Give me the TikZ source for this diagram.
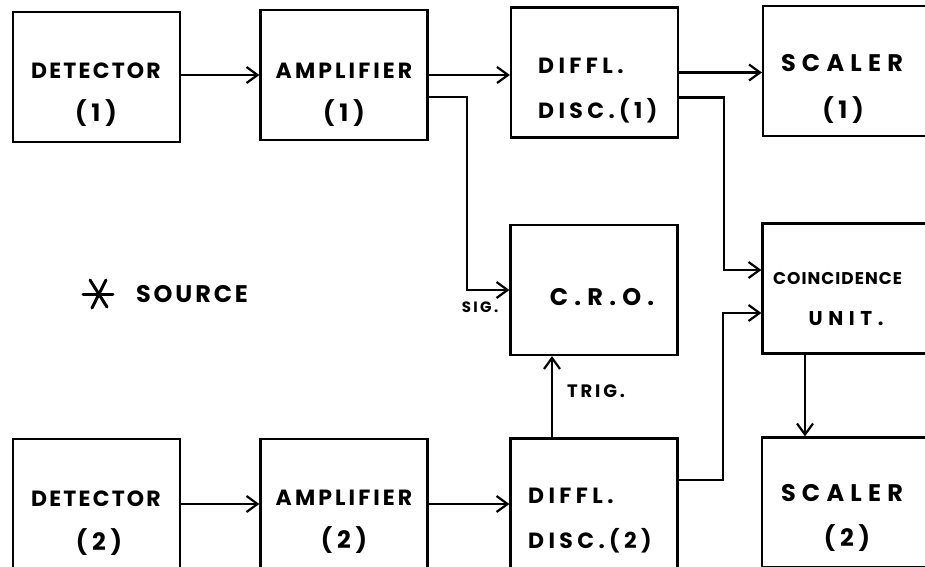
\documentclass[tikz,border=0pt]{standalone}
\usepackage{fontspec}
\newfontfamily\hand{Poppins}
\usetikzlibrary{arrows.meta}
\begin{document}
\begin{tikzpicture}[x=1pt,y=-1pt,
  blk/.style={draw, line width=2.2pt, minimum width=167pt, minimum height=130pt, inner sep=0pt},
  lbl/.style={font={\hand\bfseries\fontsize{22}{22}\selectfont\addfontfeatures{LetterSpace=#1}}, inner sep=0pt, anchor=base},
  lbl/.default=10,
  big/.style={font={\hand\bfseries\fontsize{24}{24}\selectfont\addfontfeatures{LetterSpace=#1}}, inner sep=0pt, anchor=base},
  big/.default=26,
  lblw/.style={lbl=#1, anchor=base west},
  lblw/.default=20,
  small/.style={font={\hand\bfseries\fontsize{15}{15}\selectfont\addfontfeatures{LetterSpace=16}}, inner sep=0pt, anchor=base},
  mid/.style={font={\hand\bfseries\fontsize{18}{18}\selectfont\addfontfeatures{LetterSpace=16}}, inner sep=0pt, anchor=base},
  arr/.style={line width=2.2pt, -{Straight Barb[length=11pt,width=16pt]}}]
\useasboundingbox (0,0) rectangle (925,566);
\clip (0,0) rectangle (925,566);
\fill[white] (0,0) rectangle (925,566);

% boxes
\node[blk] (det1) at (96.5,77) {};
\node[blk] (amp1) at (344,75) {};
\node[blk] (dif1) at (594.5,72.5) {};
\node[blk] (sca1) at (846.5,71) {};
\node[blk] (cro)  at (594,290) {};
\node[blk] (coin) at (846,288.5) {};
\node[blk] (det2) at (96.5,504) {};
\node[blk] (amp2) at (344,504) {};
\node[blk] (dif2) at (594,503.5) {};
\node[blk] (sca2) at (845.5,502.5) {};

% labels
\node[lbl] (det1a) at (96,78) {DETECTOR};
\node[big=20] (det1b) at (96,121) {(1)};
\node[lbl=14] (amp1a) at (344,78) {AMPLIFIER};
\node[big=20] (amp1b) at (344,121) {(1)};
\node[lblw] (dif1a) at (538,73) {DIFFL.};
\node[lblw] (dif1b) at (538,118) {DISC.(1)};
\node[big] (sca1a) at (842,71) {SCALER};
\node[big=20] (sca1b) at (843,118) {(1)};
\node[big] (croa) at (602,305) {C.R.O.};
\node[font={\hand\bfseries\fontsize{17}{17}\selectfont\addfontfeatures{LetterSpace=6}}, inner sep=0pt, anchor=base west] (coina) at (773,284) {COINCIDENCE};
\node[font={\hand\bfseries\fontsize{20}{20}\selectfont\addfontfeatures{LetterSpace=28}}, inner sep=0pt, anchor=base] (coinb) at (846,325) {UNIT.};
\node[lbl] (det2a) at (96,506) {DETECTOR};
\node[big=20] (det2b) at (99,550) {(2)};
\node[lbl=14] (amp2a) at (344,505) {AMPLIFIER};
\node[big=20] (amp2b) at (344,548) {(2)};
\node[lblw] (dif2a) at (528,503) {DIFFL.};
\node[lblw] (dif2b) at (528,548) {DISC.(2)};
\node[big] (sca2a) at (842,501) {SCALER};
\node[big=20] (sca2b) at (847,546) {(2)};
\node[small] (sig) at (480,312) {SIG.};
\node[mid] (trig) at (596,397) {TRIG.};
\node[font={\hand\bfseries\fontsize{24}{24}\selectfont\addfontfeatures{LetterSpace=12}}, inner sep=0pt, anchor=base] (srca) at (192,302) {SOURCE};

% source star
\draw[line width=3pt, line cap=round] (90,280) -- (107,307);
\draw[line width=3pt, line cap=round] (106,280) -- (92,308);
\draw[line width=3pt, line cap=round] (83,294) -- (113,294);

% connectors
\draw[arr] (det1.east |- amp1) -- (amp1.west);
\draw[arr] (amp1.east) -- (amp1.east -| dif1.west);
\draw[arr] ([yshift=-22pt]amp1.east) -- ++(38,0) |- (cro.west);
\draw[arr] (dif1.east) -- (dif1.east -| sca1.west);
\draw[arr] ([yshift=-25pt]dif1.east) -- ++(45,0) |- ([yshift=18.5pt]coin.west);
\draw[arr] ([yshift=23.5pt]dif2.east) -- ++(44,0) |- ([yshift=-24.5pt]coin.west);
\draw[arr] ([xshift=-41pt]coin.south) -- ([xshift=-41pt]coin.south |- sca2.north);
\draw[arr] ([xshift=-42pt]dif2.north) -- ([xshift=-42pt]dif2.north |- cro.south);
\draw[arr] (det2.east |- amp2) -- (amp2.west);
\draw[arr] (amp2.east) -- (amp2.east -| dif2.west);
\end{tikzpicture}
\end{document}
